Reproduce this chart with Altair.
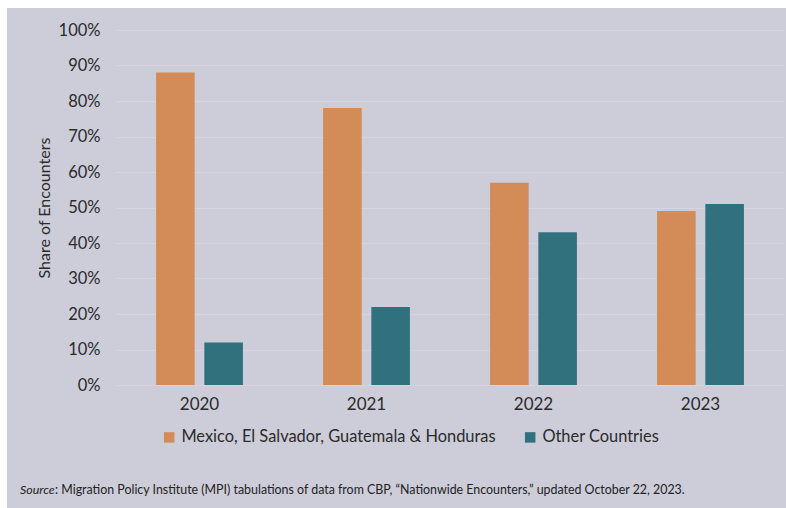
import altair as alt
import pandas as pd

years = ["2020", "2021", "2022", "2023"]
groups = ["Mexico, El Salvador, Guatemala & Honduras", "Other Countries"]
share_mx = [0.88, 0.78, 0.57, 0.49]
share_other = [0.12, 0.22, 0.43, 0.51]
colors = ["#d38c57", "#31717e"]

rows = []
for i, y in enumerate(years):
    rows.append({"year": y, "group": groups[0], "share": share_mx[i]})
    rows.append({"year": y, "group": groups[1], "share": share_other[i]})
df = pd.DataFrame(rows)

FONT = "Lato"
W, H = 668, 355
L, T = 116, 30

one = pd.DataFrame({"a": [0]})
white_top = alt.Chart(one).mark_rect(color="white").encode(
    x=alt.value(-L), x2=alt.value(786 - L), y=alt.value(-T), y2=alt.value(8 - T)
)
white_left = alt.Chart(one).mark_rect(color="white").encode(
    x=alt.value(-L), x2=alt.value(7 - L), y=alt.value(-T), y2=alt.value(508 - T)
)

bars = alt.Chart(df).mark_bar(stroke=None).encode(
    x=alt.X("year:N", sort=years,
            scale=alt.Scale(paddingInner=0.48, paddingOuter=0.24),
            axis=alt.Axis(title=None, labelAngle=0, domain=False, ticks=False,
                          labelFontSize=17, labelColor="#2b2b2b", labelFont=FONT,
                          labelPadding=11)),
    xOffset=alt.XOffset("group:N", sort=groups,
                        scale=alt.Scale(paddingInner=0.2, paddingOuter=0)),
    y=alt.Y("share:Q",
            scale=alt.Scale(domain=[0, 1]),
            axis=alt.Axis(title="Share of Encounters", format=".0%", values=[i / 10 for i in range(11)],
                          domain=False, ticks=False, labelFontSize=16.5, labelColor="#2b2b2b",
                          labelFont=FONT, labelPadding=16, titleFont=FONT, titleFontSize=16,
                          titleFontWeight="normal", titleColor="#2b2b2b", titlePadding=6,
                          gridColor="#d8d3de", gridWidth=1.2)),
    color=alt.Color("group:N", sort=groups,
                    scale=alt.Scale(domain=groups, range=colors),
                    legend=alt.Legend(title=None, orient="none", direction="horizontal",
                                      legendX=45, legendY=399, symbolType="square",
                                      symbolSize=110, symbolStrokeWidth=0,
                                      labelFontSize=16.4, labelFont=FONT, labelLimit=0,
                                      labelColor="#2b2b2b", columnPadding=26,
                                      labelOffset=4)),
)

src_italic = alt.Chart(pd.DataFrame({"t": ["Source"]})).mark_text(
    align="left", baseline="middle", font=FONT, fontSize=12.4, fontStyle="italic", color="#222222"
).encode(text="t:N", x=alt.value(20 - L), y=alt.value(490 - T))

src_rest = alt.Chart(pd.DataFrame({"t": [": Migration Policy Institute (MPI) tabulations of data from CBP, \u201cNationwide Encounters,\u201d updated October 22, 2023."]})).mark_text(
    align="left", baseline="middle", font=FONT, fontSize=12.4, color="#222222"
).encode(text="t:N", x=alt.value(55 - L), y=alt.value(490 - T))

chart = alt.layer(bars, src_italic, src_rest, white_top, white_left).properties(
    width=W, height=H,
    autosize=alt.AutoSizeParams(type="none"),
    padding={"left": L, "top": T, "right": 786 - L - W, "bottom": 508 - T - H},
    background="#cdccd9",
).configure_view(stroke=None)

chart.save("out.html", embed_options={"renderer": "svg", "actions": False})
